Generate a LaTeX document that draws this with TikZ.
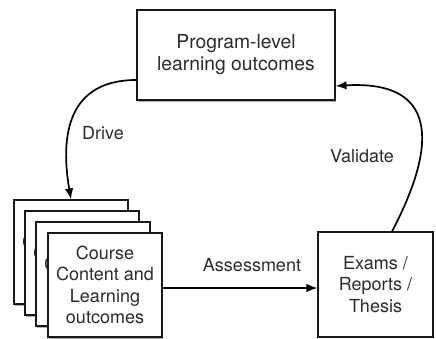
\documentclass[tikz,border=0pt]{standalone}
\usepackage{fontspec}
\setmainfont{TeX Gyre Heros}
\usetikzlibrary{arrows.meta,shadows}
\definecolor{txt}{HTML}{2B2B2B}
\tikzset{
  box/.style={draw=black!90, line width=1.1pt, fill=white, inner sep=0pt, align=center,
    text=txt, font=\fontsize{18}{21.5}\selectfont},
  shad/.style={drop shadow={shadow xshift=0.6pt, shadow yshift=-2.2pt, opacity=0.45, fill=black!70}},
  conn/.style={line width=1.7pt, -{Latex[length=11pt,width=8.5pt]}},
  lbl/.style={text=txt, font=\fontsize{18}{21.5}\selectfont, inner sep=0pt},
  peek/.style={text=txt, font=\fontsize{18}{21.5}\selectfont, inner sep=0pt}
}
\begin{document}
\begin{tikzpicture}[x=1pt,y=-1pt]
\useasboundingbox (0,0) rectangle (436,339);
\node[box, shad, minimum width=198pt, minimum height=90pt, font=\fontsize{19.3}{22}\selectfont] (plo) at (236,55) {Program-level\\learning outcomes};
\node[box, shad, minimum width=114pt, minimum height=104pt] (c1) at (71,252) {};
\node[peek] (p1) at (71,241.5) {C\phantom{ontent and}};
\node[box, shad, minimum width=114pt, minimum height=104pt] (c2) at (82,263) {};
\node[peek] (p2) at (82,252.5) {C\phantom{ontent and}};
\node[box, shad, minimum width=114pt, minimum height=104pt] (c3) at (93,274) {};
\node[peek] (p3) at (93,263.5) {C\phantom{ontent and}};
\node[box, shad, minimum width=114pt, minimum height=104pt] (c4) at (105,285) {Course\\Content and\\Learning\\outcomes};
\node[box, minimum width=115pt, minimum height=105pt] (ex) at (375.5,284.5) {Exams /\\Reports /\\Thesis};
\coordinate (dstart) at (plo.west |- 0,80);
\coordinate (vstart) at (392,0 |- ex.north);
\draw[conn] (dstart) .. controls (68,80) and (60,135) .. (c1.north);
\draw[conn] (c4.east |- 0,288) -- (ex.west |- 0,288);
\draw[conn] (vstart) .. controls (440,140) and (435,80) .. (plo.east |- 0,86);
\node[lbl] (ldrive) at (103,133) {Drive};
\node[lbl] (lass) at (252,265) {Assessment};
\node[lbl] (lval) at (362,156) {Validate};
\end{tikzpicture}
\end{document}
